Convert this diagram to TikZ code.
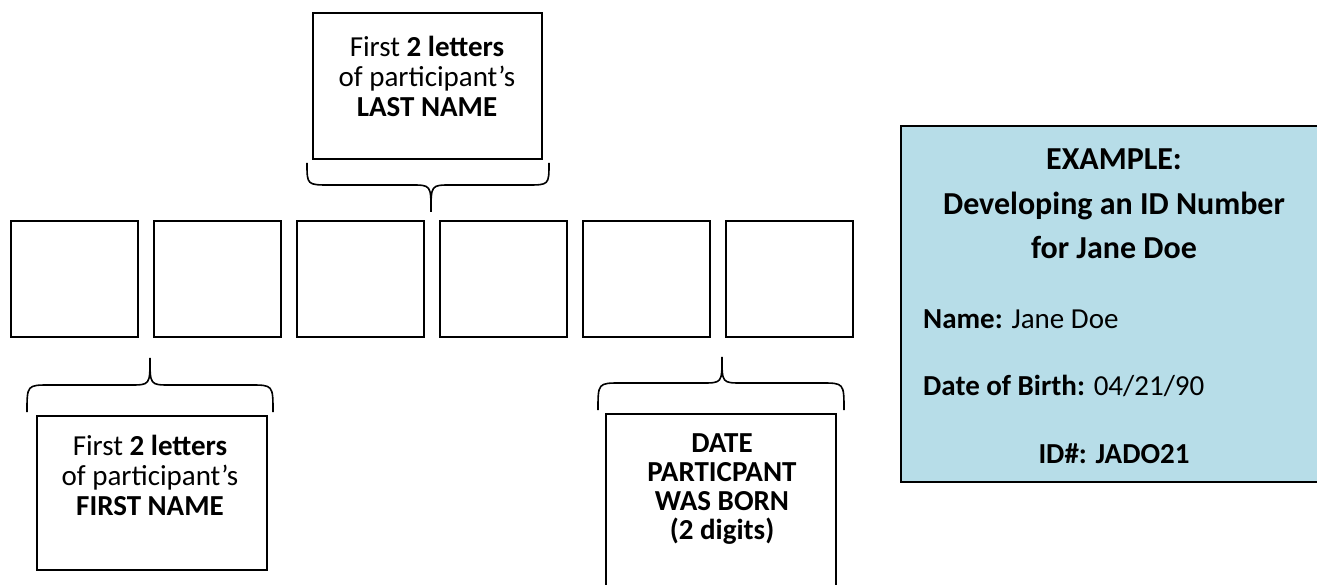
\documentclass[tikz,border=0pt]{standalone}
\usepackage{fontspec}
\setmainfont{Carlito}
\definecolor{idblue}{RGB}{183,221,232}
\begin{document}
\begin{tikzpicture}[x=1pt,y=-1pt,
  sq/.style={draw,line width=2pt,minimum width=127pt,minimum height=116pt,inner sep=0pt},
  lbox/.style={draw,line width=2pt,inner sep=0pt},
  lbl/.style={align=center,font=\fontsize{29}{30}\selectfont,inner sep=0pt},
  bracepath/.style={line width=1.6pt},
  big/.style={font=\fontsize{29}{44.5}\selectfont,inner sep=0pt}]
\useasboundingbox (0,0) rectangle (1317,585);
\clip (0,0) rectangle (1317,585);
% digit squares
\foreach \i in {1,...,6} \node[sq] (s\i) at ({74+143*(\i-1)},279) {};
% label boxes
\node[lbox,minimum width=229pt,minimum height=146pt] (topbox) at (427.5,86) {};
\node[lbox,minimum width=230pt,minimum height=154pt] (blbox) at (152,493) {};
\node[lbox,minimum width=230pt,minimum height=186pt] (brbox) at (721,507) {};
\node[lbox,fill=idblue,minimum width=426pt,minimum height=356pt] (bluebox) at (1114,304) {};
% braces
\draw[bracepath] (307,163) .. controls (307,185) .. (330,185) -- (411,185) .. controls (431,185) .. (431,212) .. controls (431,185) .. (451,185) -- (527,185) .. controls (549,185) .. (549,163);
\draw[bracepath] (27,412) .. controls (27,385) .. (50,385) -- (130,385) .. controls (150,385) .. (150,358) .. controls (150,385) .. (170,385) -- (250,385) .. controls (273,385) .. (273,412);
\draw[bracepath] (598,410) .. controls (598,383) .. (621,383) -- (702,383) .. controls (722,383) .. (722,357) .. controls (722,383) .. (742,383) -- (821,383) .. controls (844,383) .. (844,410);
% texts
\node[lbl] (toptext) at (427,76) {First \textbf{2 letters}\\of participant’s\\\textbf{LAST NAME}};
\node[lbl] (bltext) at (150,475) {First \textbf{2 letters}\\of participant’s\\\textbf{FIRST NAME}};
\node[lbl,font=\fontsize{29}{29}\selectfont\bfseries] (brtext) at (722,489) {DATE\\PARTICPANT\\WAS BORN\\(2 digits)};
\node[big,align=center,font=\fontsize{32}{44.5}\selectfont\bfseries] (title) at (1114,204) {EXAMPLE:\\Developing an ID Number\\for Jane Doe};
\node[big,anchor=base west] (name) at (923,328) {\textbf{Name:} Jane Doe};
\node[big,anchor=base west] (dob) at (923,395) {\textbf{Date of Birth:} 04/21/90};
\node[big,anchor=base,font=\fontsize{29}{44.5}\selectfont\bfseries] (id) at (1114,463) {ID\#: JADO21};
\end{tikzpicture}
\end{document}
